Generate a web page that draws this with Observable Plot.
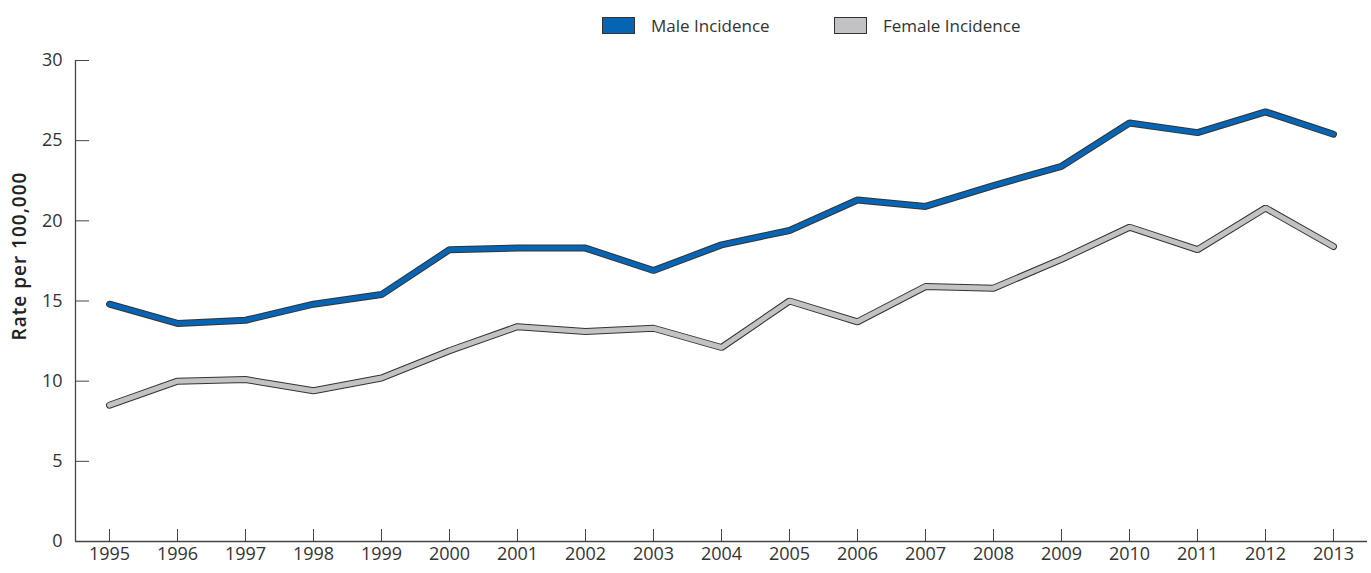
<!DOCTYPE html>
<html>
<head>
<meta charset="utf-8">
<script src="https://cdn.jsdelivr.net/npm/d3@7"></script>
<script src="https://cdn.jsdelivr.net/npm/@observablehq/plot@0.6"></script>
<style>
  html, body { margin: 0; padding: 0; background: #fff; }
  body { width: 1371px; height: 573px; overflow: hidden; font-family: "Open Sans", "Noto Sans", sans-serif; }
  #legend { position: relative; height: 40px; }
  .item { position: absolute; top: 5px; height: 40px; display: flex; align-items: center; font-size: 17px; color: #333; }
  .sw { width: 31px; height: 15px; border: 1px solid #333; margin-right: 16px; }
  #ylabel { position: absolute; left: 19px; top: 256px; transform: translate(-50%, -50%) rotate(-90deg); white-space: nowrap; font-family: "Open Sans", "Noto Sans", sans-serif; font-weight: 600; font-size: 19px; letter-spacing: 1px; color: #222; }
</style>
</head>
<body>
<div id="legend"></div>
<div id="chart"></div>
<div id="ylabel">Rate per 100,000</div>
<script>
const years = [1995,1996,1997,1998,1999,2000,2001,2002,2003,2004,2005,2006,2007,2008,2009,2010,2011,2012,2013];
const male = [14.8,13.6,13.8,14.8,15.4,18.2,18.3,18.3,16.9,18.5,19.4,21.3,20.9,22.2,23.4,26.1,25.5,26.8,25.4];
const female = [8.5,10.0,10.1,9.4,10.2,11.9,13.4,13.1,13.3,12.1,15.0,13.7,15.9,15.8,17.6,19.6,18.2,20.8,18.4];
const series = ["Male Incidence", "Female Incidence"];
const colors = ["#0664b4", "#c2c2c4"];
const yTicks = [0, 5, 10, 15, 20, 25, 30];
const xDomain = [1994.5, 2013.5];

const legend = document.getElementById("legend");
const legendLeft = [602, 834];
series.forEach((s, i) => {
  const it = document.createElement("div");
  it.className = "item";
  it.style.left = legendLeft[i] + "px";
  it.innerHTML = `<span class="sw" style="background:${colors[i]}"></span><span>${s}</span>`;
  legend.appendChild(it);
});

const data = [];
years.forEach((y, i) => {
  data.push({year: y, value: male[i], series: series[0]});
  data.push({year: y, value: female[i], series: series[1]});
});

const chart = Plot.plot({
  width: 1371,
  height: 533,
  marginLeft: 75,
  marginRight: 4,
  marginTop: 20,
  marginBottom: 32,
  style: {fontFamily: "'Open Sans', 'Noto Sans', sans-serif", fontSize: "18px", color: "#333", background: "#fff"},
  x: {domain: xDomain},
  y: {domain: [0, 30]},
  color: {domain: series, range: colors},
  marks: [
    Plot.axisY({ticks: yTicks, tickSize: -14, tickFormat: () => "", label: null, stroke: "#444"}),
    Plot.axisY({ticks: yTicks, tickSize: 0, tickPadding: 13, label: null, fill: "#333", fontSize: 18}),
    Plot.axisX({ticks: years, tickSize: -12, tickFormat: () => "", label: null, stroke: "#444"}),
    Plot.axisX({ticks: years, tickSize: 0, tickPadding: 6, tickFormat: d => String(d), label: null, fill: "#333", fontSize: 18}),
    Plot.ruleY([0], {stroke: "#444", strokeWidth: 1.3}),
    Plot.ruleX([xDomain[0]], {stroke: "#444", strokeWidth: 1.3}),
    Plot.line(data, {x: "year", y: "value", z: "series", stroke: "#333", strokeWidth: 7, strokeLinejoin: "miter"}),
    Plot.line(data, {x: "year", y: "value", z: "series", stroke: "series", strokeWidth: 5, strokeLinejoin: "miter"})
  ]
});
document.getElementById("chart").appendChild(chart);
</script>
</body>
</html>
